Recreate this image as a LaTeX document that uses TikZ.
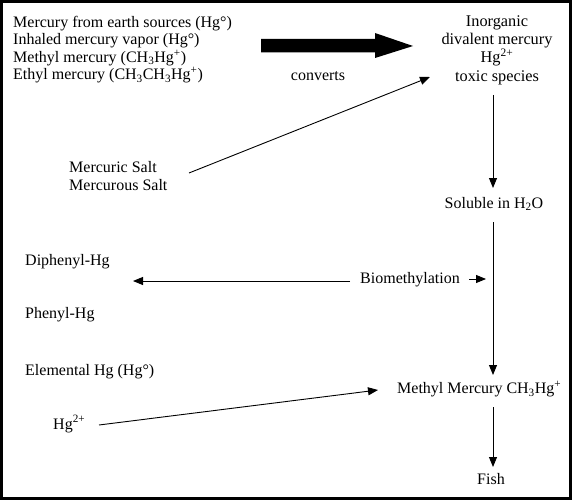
\documentclass[tikz,border=0pt]{standalone}
\usepackage{fontspec}
\setmainfont{Liberation Serif}
\usetikzlibrary{arrows.meta}
\lineskiplimit=-100pt
\tikzset{
  txt/.style={inner sep=0pt, font=\fontsize{16}{17.5}\selectfont},
  conn/.style={line width=0.9pt, -{Triangle[length=10pt,width=8pt]}},
}
\begin{document}
\begin{tikzpicture}[x=1pt,y=-1pt]
\useasboundingbox (0,0) rectangle (572,500);
\draw[line width=3pt] (1.5,1.5) rectangle (570.5,498.5);

% texts
\node[txt, anchor=base west] (src1) at (13,27.5) {Mercury from earth sources (Hg°)};
\node[txt, anchor=base west] (src2) at (13,44.8) {Inhaled mercury vapor (Hg°)};
\node[txt, anchor=base west] (src3) at (13,62.3) {Methyl mercury (CH\textsubscript{3}Hg\textsuperscript{+})};
\node[txt, anchor=base west] (src4) at (13,79.6) {Ethyl mercury (CH\textsubscript{3}CH\textsubscript{3}Hg\textsuperscript{+})};
\node[txt] (conv) at (318,76) {converts};
\node[txt, align=center, font=\fontsize{16.3}{18.3}\selectfont] (inorg) at (497,50) {Inorganic\\divalent mercury\\Hg\textsuperscript{2+}\\toxic species};
\node[txt, anchor=west, align=left] (salt) at (69,176) {Mercuric Salt\\Mercurous Salt};
\node[txt] (sol) at (494,204) {Soluble in H\textsubscript{2}O};
\node[txt, anchor=west] (diph) at (25,262) {Diphenyl-Hg};
\node[txt, anchor=west] (phen) at (25,315) {Phenyl-Hg};
\node[txt] (biom) at (410,280) {Biomethylation};
\node[txt, anchor=west] (elem) at (25,372) {Elemental Hg (Hg°)};
\node[txt, anchor=west] (hg2) at (53,424) {Hg\textsuperscript{2+}};
\node[txt, anchor=west] (mm) at (397,389) {Methyl Mercury CH\textsubscript{3}Hg\textsuperscript{+}};
\node[txt] (fish) at (491,479) {Fish};

% coordinates
\coordinate (bigA) at (261,46);
\coordinate (saltS) at (189,173);
\coordinate (saltE) at (430,77);
\coordinate (inorgS) at (493,95);
\coordinate (inorgE) at (493,188);
\coordinate (solS) at (493,222);
\coordinate (solE) at (493,375);
\coordinate (biomL) at (133,281);
\coordinate (biomLs) at (350,281);
\coordinate (biomRs) at (469,279);
\coordinate (biomR) at (486,279);
\coordinate (hgS) at (99,425);
\coordinate (hgE) at (378,390);
\coordinate (mmS) at (493,407);
\coordinate (mmE) at (493,467);

% big arrow
\fill (bigA) ++(0,-7) -- ++(114,0) -- ++(0,-6) -- (413,46) -- (375,58) -- (375,52.5) -- (261,52.5) -- cycle;

\draw[conn] (saltS) -- (saltE);
\draw[conn] (inorgS) -- (inorgE);
\draw[conn] (solS) -- (solE);
\draw[conn] (biomLs) -- (biomL);
\draw[conn] (biomRs) -- (biomR);
\draw[conn] (hgS) -- (hgE);
\draw[conn] (mmS) -- (mmE);
\end{tikzpicture}
\end{document}
